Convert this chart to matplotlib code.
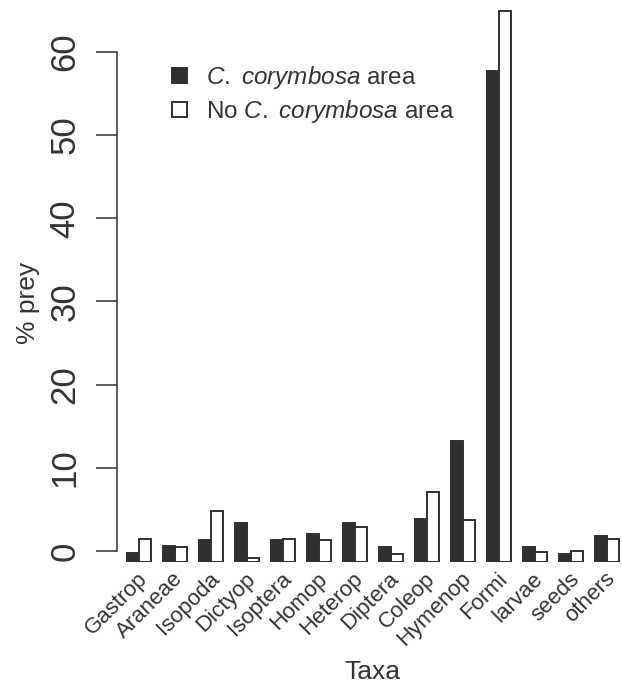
import numpy as np
import matplotlib
matplotlib.use('Agg')
import matplotlib.pyplot as plt
from matplotlib.patches import Patch
from matplotlib.transforms import ScaledTranslation

plt.rcParams['font.family'] = ['Liberation Sans', 'DejaVu Sans']
plt.rcParams['mathtext.fontset'] = 'custom'
plt.rcParams['mathtext.rm'] = 'Liberation Sans'
plt.rcParams['mathtext.it'] = 'Liberation Sans:italic'

taxa = ['Gastrop', 'Araneae', 'Isopoda', 'Dictyop', 'Isoptera', 'Homop', 'Heterop',
        'Diptera', 'Coleop', 'Hymenop', 'Formi', 'larvae', 'seeds', 'others']
# values as read on the printed axis (bars start a little below 0)
with_cc = [-0.28, 0.6, 1.32, 3.33, 1.32, 2.0, 3.33, 0.52, 3.85, 13.26, 57.7, 0.44, -0.36, 1.8]
no_cc = [1.48, 0.45, 4.8, -0.8, 1.4, 1.32, 2.92, -0.36, 7.13, 3.7, 64.9, -0.08, 0.04, 1.4]
yticks = [0, 10, 20, 30, 40, 50, 60]

base = -1.3
dark = '#303030'
txt = '#333333'

fig = plt.figure(figsize=(6.22, 6.89), dpi=100)
ax = fig.add_axes([117.4/622, 1-561.8/689, (621.4-117.4)/622, (561.8-1.9)/689])

n = len(taxa)
idx = np.arange(n)
left_b = 1 + 3*idx
left_w = 2 + 3*idx
ax.bar(left_b, np.array(with_cc) - base, width=1, bottom=base, align='edge',
       color=dark, edgecolor=dark, linewidth=1.4)
ax.bar(left_w, np.array(no_cc) - base, width=1, bottom=base, align='edge',
       color='white', edgecolor=dark, linewidth=1.4)

ax.set_xlim(0.2, 42.2)
ax.set_ylim(base, 66)

for s in ['top', 'right', 'bottom']:
    ax.spines[s].set_visible(False)
ax.spines['left'].set_bounds(0, 60)
ax.spines['left'].set_color(dark)
ax.spines['left'].set_linewidth(1.1)

ax.set_yticks(yticks)
ax.set_yticklabels([str(v) for v in yticks], rotation=90, va='center', fontsize=25, color=txt)
ax.tick_params(axis='y', length=14.8, width=1.1, color=dark, pad=11)

ax.set_xticks(left_b + 1)
ax.set_xticklabels(taxa, rotation=45, ha='right', va='center', rotation_mode='anchor',
                   fontsize=16, color=txt)
ax.tick_params(axis='x', length=0, pad=10)
shift = ScaledTranslation(5/100, 0, fig.dpi_scale_trans)
for lab in ax.get_xticklabels():
    lab.set_transform(lab.get_transform() + shift)

fig.text(372/622, 1-672/689, 'Taxa', ha='center', va='center', fontsize=19, color=txt)
fig.text(28/622, 1-303/689, '% prey', ha='center', va='center', rotation=90, fontsize=19, color=txt)

handles = [Patch(facecolor=dark, edgecolor=dark, linewidth=1.4),
           Patch(facecolor='white', edgecolor=dark, linewidth=1.4)]
labels = [r'$\mathit{C.\ corymbosa}$ area', r'No $\mathit{C.\ corymbosa}$ area']
leg = fig.legend(handles, labels, loc='upper left', bbox_to_anchor=(172/622, 1-64/689),
                 frameon=False, fontsize=17.5, handlelength=0.6, handleheight=0.6,
                 handletextpad=0.8, labelspacing=0.3, borderpad=0, borderaxespad=0)
for t in leg.get_texts():
    t.set_color(txt)

fig.savefig('out.png', dpi=100)
